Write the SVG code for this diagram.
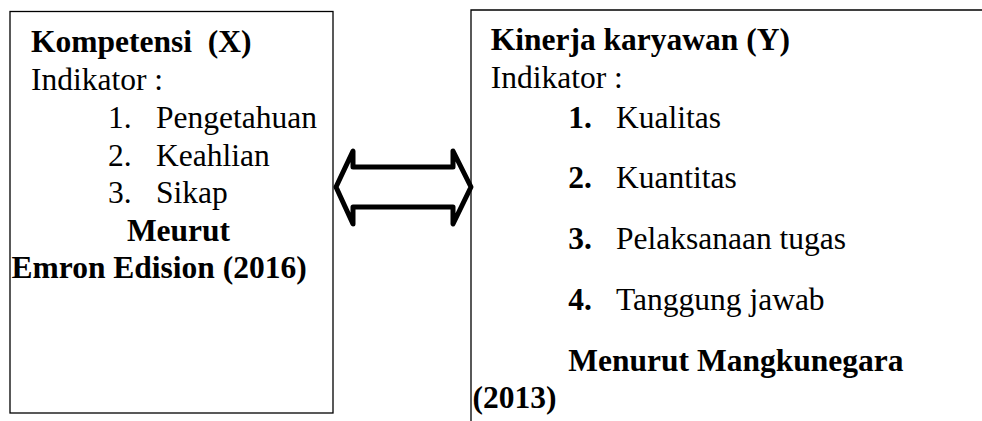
<svg xmlns="http://www.w3.org/2000/svg" width="982" height="421" viewBox="0 0 982 421">
  <style>
    text { font-family: 'Liberation Serif', 'Times New Roman', serif; font-size: 31.5px; fill: #000; }
    .b { font-weight: bold; }
    .box { fill: #fff; stroke: #000; stroke-width: 1.3; }
    .arrow { fill: #fff; stroke: #000; stroke-width: 5; stroke-linejoin: round; }
  </style>
  <rect width="982" height="421" fill="#fff"/>

  <!-- Competence variable -->
  <g id="kompetensi">
    <rect class="box" x="10" y="11.5" width="323" height="401.5"/>
    <text class="b" x="31" y="52" xml:space="preserve">Kompetensi  (X)</text>
    <text x="31" y="90">Indikator :</text>
    <text x="108" y="128">1.</text>
    <text x="156" y="128">Pengetahuan</text>
    <text x="108" y="165.5">2.</text>
    <text x="156" y="165.5">Keahlian</text>
    <text x="108" y="203">3.</text>
    <text x="156" y="203">Sikap</text>
    <text class="b" x="178.5" y="240.5" text-anchor="middle">Meurut</text>
    <text class="b" x="11.5" y="278">Emron Edision (2016)</text>
  </g>

  <!-- Employee performance variable -->
  <g id="kinerja">
    <path class="box" d="M471 421 V10 H982" fill="none"/>
    <text class="b" x="490.7" y="50">Kinerja karyawan (Y)</text>
    <text x="490.7" y="88">Indikator :</text>
    <text class="b" x="568.3" y="127.7">1.</text>
    <text x="616" y="127.7">Kualitas</text>
    <text class="b" x="568.3" y="188.4">2.</text>
    <text x="616" y="188.4">Kuantitas</text>
    <text class="b" x="568.3" y="249.1">3.</text>
    <text x="616" y="249.1">Pelaksanaan tugas</text>
    <text class="b" x="568.3" y="309.8">4.</text>
    <text x="616" y="309.8">Tanggung jawab</text>
    <text class="b" x="568.3" y="370.5">Menurut Mangkunegara</text>
    <text class="b" x="472.5" y="408">(2013)</text>
  </g>

  <!-- Two-way relation -->
  <g id="connectors">
    <path class="arrow" d="M336 187 L353 151 V167 H453 V151 L471 187 L453 224 V207 H353 V224 Z"/>
  </g>
</svg>
